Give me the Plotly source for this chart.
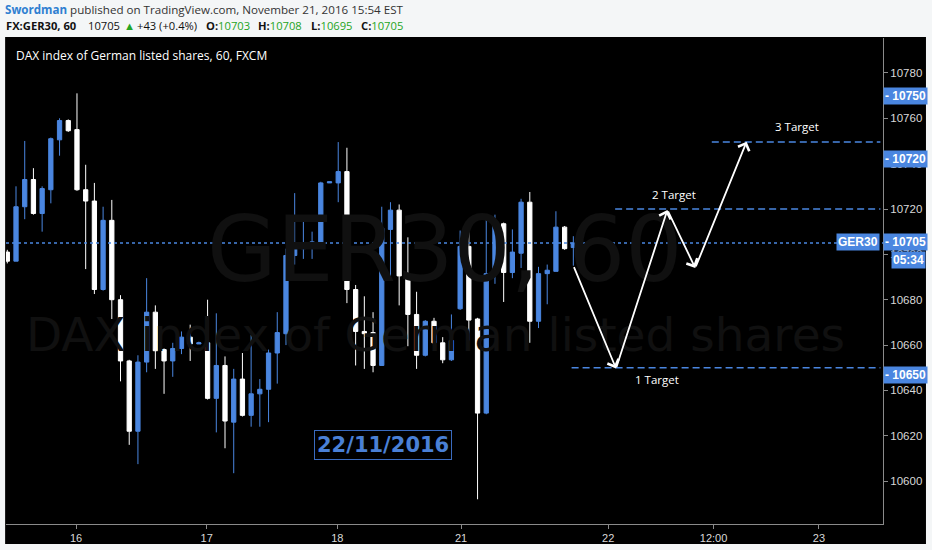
import plotly.graph_objects as go

# hourly GER30 candles (bar index 0..65)
opens = [10701, 10697, 10721, 10733, 10718, 10728.5, 10750.5, 10759, 10755, 10728.5,
         10723.5, 10684.5, 10715, 10680, 10653, 10622, 10652.5, 10674.5, 10658, 10653,
         10658.5, 10663.5, 10660.5, 10661, 10636.5, 10651, 10626, 10645, 10629, 10638.5,
         10640.5, 10656.5, 10665, 10699.5, 10702.5, 10704.5, 10705, 10731.5, 10731.5, 10736.5,
         10684.5, 10666, 10665.5, 10651, 10711, 10719.5, 10691, 10673.5, 10655.5, 10670.5,
         10661, 10653.5, 10676, 10703.5, 10671.5, 10630, 10691.5, 10713.5, 10692, 10700.5,
         10723, 10670.5, 10691.5, 10692.5, 10712, 10703]
highs = [10702, 10730, 10750, 10738, 10730, 10751.5, 10760, 10759.5, 10771, 10739.5,
         10731.5, 10721, 10724, 10682, 10653.5, 10655.5, 10689.5, 10677.5, 10658.5, 10661,
         10666, 10669, 10661.5, 10680, 10674, 10655, 10649.5, 10656.5, 10664.5, 10645,
         10658, 10674.5, 10702.5, 10727, 10715.5, 10710, 10732, 10732, 10749.5, 10747,
         10686.5, 10681.5, 10674.5, 10721, 10723, 10722, 10707.5, 10683.5, 10671, 10672,
         10663.5, 10673.5, 10710.5, 10715.5, 10672, 10716.5, 10717.5, 10714, 10711, 10724.5,
         10727.5, 10694.5, 10695.5, 10719, 10712.5, 10708]
lows = [10696, 10697, 10715.5, 10717.5, 10710, 10722.5, 10743.5, 10754, 10728, 10693.5,
        10682.5, 10684, 10671.5, 10644, 10616, 10607.5, 10648, 10649.5, 10638.5, 10646,
        10656, 10653, 10660.5, 10636, 10621.5, 10614.5, 10603.5, 10628.5, 10624, 10624,
        10626, 10643, 10660, 10695.5, 10698, 10698, 10705, 10731.5, 10723, 10678.5,
        10651, 10649.5, 10648, 10651, 10688.5, 10677.5, 10659.5, 10649.5, 10655, 10657.5,
        10652, 10653, 10675.5, 10662, 10592, 10629.5, 10687, 10679, 10689.5, 10694,
        10661, 10667.5, 10678, 10692.5, 10702, 10695]
closes = [10697, 10721, 10733, 10718, 10729, 10751, 10759, 10754.5, 10728.5, 10723.5,
          10684.5, 10715, 10680, 10653, 10622, 10652.5, 10674.5, 10657.5, 10653, 10658.5,
          10663.5, 10660.5, 10661, 10636.5, 10651, 10626.5, 10645, 10629, 10638.5, 10640.5,
          10656.5, 10665.5, 10699.5, 10702.5, 10704.5, 10705.5, 10731.5, 10732, 10736.5, 10684.5,
          10666, 10665, 10651, 10711.5, 10719.5, 10690.5, 10673.5, 10655.5, 10670.5, 10661,
          10653.5, 10662, 10703.5, 10671, 10630, 10691.5, 10713.5, 10692, 10701, 10723,
          10670.5, 10691.5, 10693, 10712, 10702.5, 10705]
bars = list(range(len(opens)))

# time axis (bar index positions of the day labels)
tick_pos = [7.9, 22.9, 37.9, 52.1, 69.0, 81.1, 93.2]
tick_txt = ["16", "17", "18", "21", "22", "12:00", "23"]

last_price = 10705
targets = [10650, 10720, 10749.5]
target_start = [64.8, 69.8, 80.9]
target_names = ["1 Target", "2 Target", "3 Target"]
target_label_pos = [(74.6, 10645), (76.6, 10726.2), (90.65, 10756.3)]

# projected path drawn by the author
path_x = [65, 69.9, 75.8, 79.0, 84.9]
path_y = [10695, 10649.7, 10719.6, 10694, 10749.7]

# price tags on the right scale
tags = [("10750", 10769.7), ("10720", 10741.9), ("10705", 10705.4), ("10650", 10647)]

# symbol line of the header: (text, left edge in px)
G = "#24a524"
quote_parts = [("<b>FX:GER30, 60</b>", 6), ("10705", 88), (f"<span style='color:{G}'>▲</span>", 124),
               ("+43 (+0.4%)", 137), (f"<b>O:</b><span style='color:{G}'>10703</span>", 206),
               (f"<b>H:</b><span style='color:{G}'>10708</span>", 258),
               (f"<b>L:</b><span style='color:{G}'>10695</span>", 311),
               (f"<b>C:</b><span style='color:{G}'>10705</span>", 361)]

BLUE = "#4a86e0"
XMAX = 100.56
PW = 877  # plot width in px (932 - 6 - 49)

fig = go.Figure()
fig.add_trace(go.Candlestick(
    x=bars, open=opens, high=highs, low=lows, close=closes,
    increasing=dict(line=dict(color=BLUE, width=1), fillcolor=BLUE),
    decreasing=dict(line=dict(color="#ffffff", width=1), fillcolor="#ffffff"),
    hoverinfo="skip", showlegend=False))

shapes = []
# black chart panel incl. price/time scales
shapes.append(dict(type="rect", xref="paper", yref="paper", x0=-0.001, x1=1.049,
                   y0=-0.041, y1=1.002, fillcolor="#000000", line=dict(width=0), layer="below"))
# last price line
shapes.append(dict(type="line", xref="x", yref="y", x0=-0.15, x1=XMAX, y0=last_price, y1=last_price,
                   line=dict(color=BLUE, width=1.5, dash="3px,3px")))
for t, s in zip(targets, target_start):
    shapes.append(dict(type="line", xref="x", yref="y", x0=s, x1=XMAX - 0.3, y0=t, y1=t,
                       line=dict(color=BLUE, width=1.5, dash="7px,4px")))

ann = []
# header
ann.append(dict(xref="paper", yref="paper", x=-3 / PW, y=1.058, xanchor="left", yanchor="middle",
                showarrow=False, font=dict(family="Open Sans", size=11.6, color="#333333"),
                text="<b><span style='color:#2f7fd1'>Swordman</span></b> published on TradingView.com, "
                     "November 21, 2016 15:54 EST"))
for txt, px in quote_parts:
    ann.append(dict(xref="paper", yref="paper", x=(px - 6) / PW, y=1.025, xanchor="left",
                    yanchor="middle", showarrow=False, xshift=-2,
                    font=dict(family="Open Sans", size=11.2, color="#111111"), text=txt))
ann.append(dict(xref="paper", yref="paper", x=0.009, y=0.965, xanchor="left", yanchor="middle",
                showarrow=False, font=dict(family="Open Sans", size=12, color="#ffffff"),
                text="DAX index of German listed shares, 60, FXCM"))
# watermark
ann.append(dict(xref="paper", yref="paper", x=0.5, y=0.565, showarrow=False,
                font=dict(family="DejaVu Sans", size=90, color="#101010"), text="GER30, 60"))
ann.append(dict(xref="paper", yref="paper", x=0.49, y=0.39, showarrow=False,
                font=dict(family="DejaVu Sans", size=47, color="#101010"),
                text="DAX index of German listed shares"))
# date box
ann.append(dict(xref="x", yref="y", x=43.1, y=10615.8, showarrow=False,
                font=dict(family="DejaVu Sans", size=21, color="#4a80d6"), text="<b>22/11/2016</b>",
                bordercolor="#3a6bbf", borderwidth=1, borderpad=2))
# target labels
for name, (lx, ly) in zip(target_names, target_label_pos):
    ann.append(dict(xref="x", yref="y", x=lx, y=ly, showarrow=False, text=name,
                    font=dict(family="Open Sans", size=11.5, color="#ffffff")))
# arrows
for i in range(len(path_x) - 1):
    ann.append(dict(xref="x", yref="y", axref="x", ayref="y", x=path_x[i + 1], y=path_y[i + 1],
                    ax=path_x[i], ay=path_y[i], text="", showarrow=True, arrowhead=4,
                    arrowsize=1.3, arrowwidth=1.8, arrowcolor="#ffffff", standoff=0))
# price tags
for txt, py in tags:
    ann.append(dict(xref="paper", yref="y", x=1.0, y=py, xanchor="left", showarrow=False,
                    text=f"<b>- {txt}</b>", bgcolor="#4a86e0", borderpad=1,
                    font=dict(family="Liberation Sans", size=12, color="#ffffff")))
ann.append(dict(xref="paper", yref="y", x=0.997, y=10705.4, xanchor="right", showarrow=False,
                text="<b>GER30</b>", bgcolor="#4a86e0", borderpad=1,
                font=dict(family="Liberation Sans", size=12, color="#ffffff")))
ann.append(dict(xref="paper", yref="y", x=1.049, y=10697.6, xanchor="right", showarrow=False,
                text="<b>05:34</b>", bgcolor="#4a86e0", borderpad=1,
                font=dict(family="Liberation Sans", size=12, color="#ffffff")))

fig.update_layout(
    width=932, height=550,
    margin=dict(l=6, r=49, t=38, b=26),
    paper_bgcolor="#f4f6f7", plot_bgcolor="#000000",
    shapes=shapes, annotations=ann,
    xaxis=dict(range=[-0.15, XMAX], rangeslider=dict(visible=False), showgrid=False, zeroline=False,
               tickmode="array", tickvals=tick_pos, ticktext=tick_txt,
               ticks="outside", ticklen=4, tickcolor="#8a8a8a",
               showline=True, linecolor="#8a8a8a", linewidth=1,
               tickfont=dict(family="Liberation Sans", size=11, color="#d8d8d8")),
    yaxis=dict(range=[10581.1, 10795.4], side="right", showgrid=False, zeroline=False,
               dtick=20, tick0=10600, tickformat="d", ticks="outside", ticklen=4, tickcolor="#8a8a8a",
               showline=True, linecolor="#8a8a8a", linewidth=1,
               tickfont=dict(family="Liberation Sans", size=11.5, color="#d8d8d8")),
)

fig.write_html("out.html", config={"displayModeBar": False},
               post_script="document.body.style.margin='0px';")
